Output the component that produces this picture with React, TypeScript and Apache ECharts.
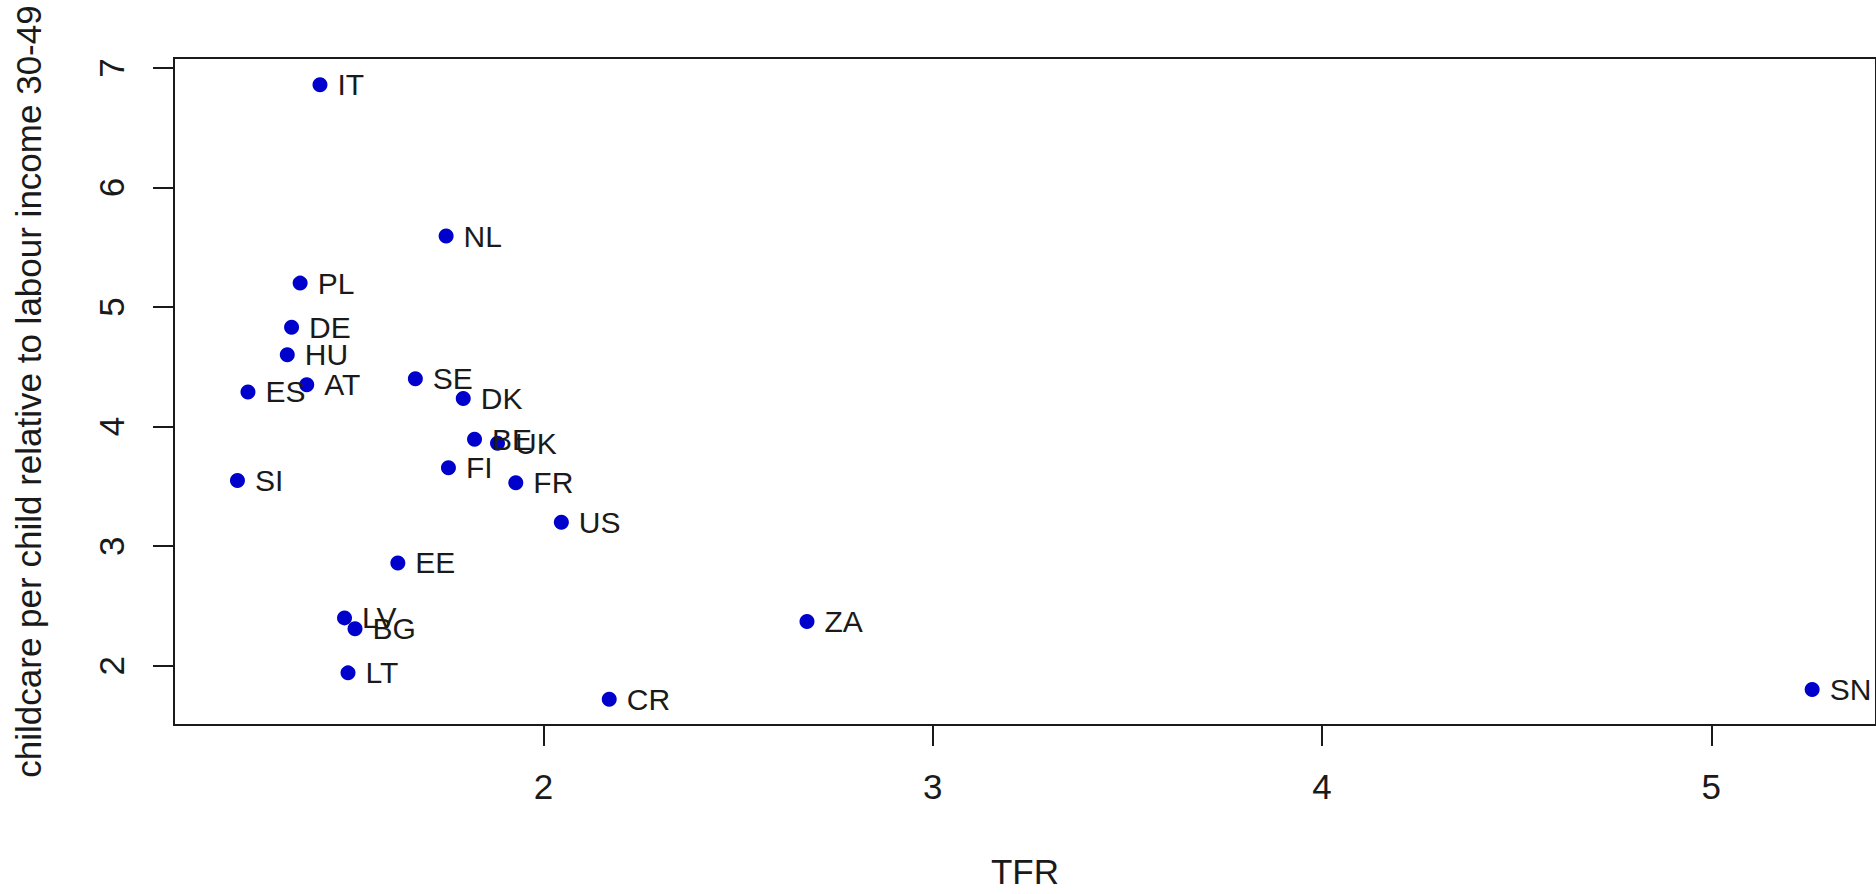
import React, { useEffect, useRef } from "react";
import * as echarts from "echarts";

const countries = ["IT", "NL", "PL", "DE", "HU", "ES", "AT", "SE", "DK", "BE", "UK", "FI", "FR", "SI", "US", "EE", "LV", "BG", "LT", "ZA", "CR", "SN"];
const tfr = [1.426, 1.75, 1.375, 1.353, 1.342, 1.241, 1.392, 1.671, 1.794, 1.823, 1.882, 1.756, 1.929, 1.214, 2.046, 1.626, 1.489, 1.516, 1.498, 2.677, 2.169, 5.259];
const childcare = [6.86, 5.594, 5.2, 4.83, 4.6, 4.29, 4.35, 4.4, 4.235, 3.895, 3.86, 3.655, 3.53, 3.55, 3.2, 2.86, 2.4, 2.31, 1.94, 2.37, 1.72, 1.8];
const xTicks = [2, 3, 4, 5];
const yTicks = [2, 3, 4, 5, 6, 7];

const FONT = "'Liberation Sans', Arial, sans-serif";
const INK = "#1a1a1a";

export default function App() {
  const ref = useRef<HTMLDivElement>(null);
  useEffect(() => {
    if (!ref.current) return;
    const chart = echarts.init(ref.current, undefined, { renderer: "svg" });
    const data = countries.map((c, i) => ({ name: c, value: [tfr[i], childcare[i]] }));
    chart.setOption({
      animation: false,
      backgroundColor: "#ffffff",
      textStyle: { fontFamily: FONT },
      grid: {
        left: 174,
        top: 58,
        right: -5,
        bottom: 164,
        show: true,
        borderColor: INK,
        borderWidth: 2,
        backgroundColor: "transparent",
      },
      xAxis: {
        type: "value",
        min: 1.051,
        max: 5.423,
        name: "TFR",
        nameLocation: "middle",
        nameGap: 129,
        nameTextStyle: { fontSize: 35, color: INK, fontFamily: FONT },
        axisLine: { show: true, lineStyle: { color: INK, width: 2 } },
        axisTick: { show: true, inside: false, length: 21, customValues: xTicks, lineStyle: { color: INK, width: 2 } },
        axisLabel: { customValues: xTicks, fontSize: 35, color: INK, margin: 44, fontFamily: FONT },
        splitLine: { show: false },
      },
      yAxis: {
        type: "value",
        min: 1.504,
        max: 7.083,
        name: "childcare per child relative to labour income 30-49",
        nameLocation: "middle",
        nameGap: 128,
        nameTextStyle: { fontSize: 35, color: INK, fontFamily: FONT },
        axisLine: { show: true, lineStyle: { color: INK, width: 2 } },
        axisTick: { show: true, inside: false, length: 21, customValues: yTicks, lineStyle: { color: INK, width: 2 } },
        axisLabel: { customValues: yTicks, fontSize: 35, color: INK, margin: 45, rotate: 90, fontFamily: FONT },
        splitLine: { show: false },
      },
      series: [
        {
          type: "scatter",
          data,
          symbol: "circle",
          symbolSize: 15,
          itemStyle: { color: "#0000CD", opacity: 1 },
          label: {
            show: true,
            position: "right",
            distance: 10,
            formatter: "{b}",
            fontSize: 30,
            color: INK,
            opacity: 1,
            fontFamily: FONT,
          },
          emphasis: { disabled: true },
        },
      ],
    });
    return () => chart.dispose();
  }, []);
  return <div ref={ref} style={{ position: "fixed", left: 0, top: 0, width: 1876, height: 894 }} />;
}
